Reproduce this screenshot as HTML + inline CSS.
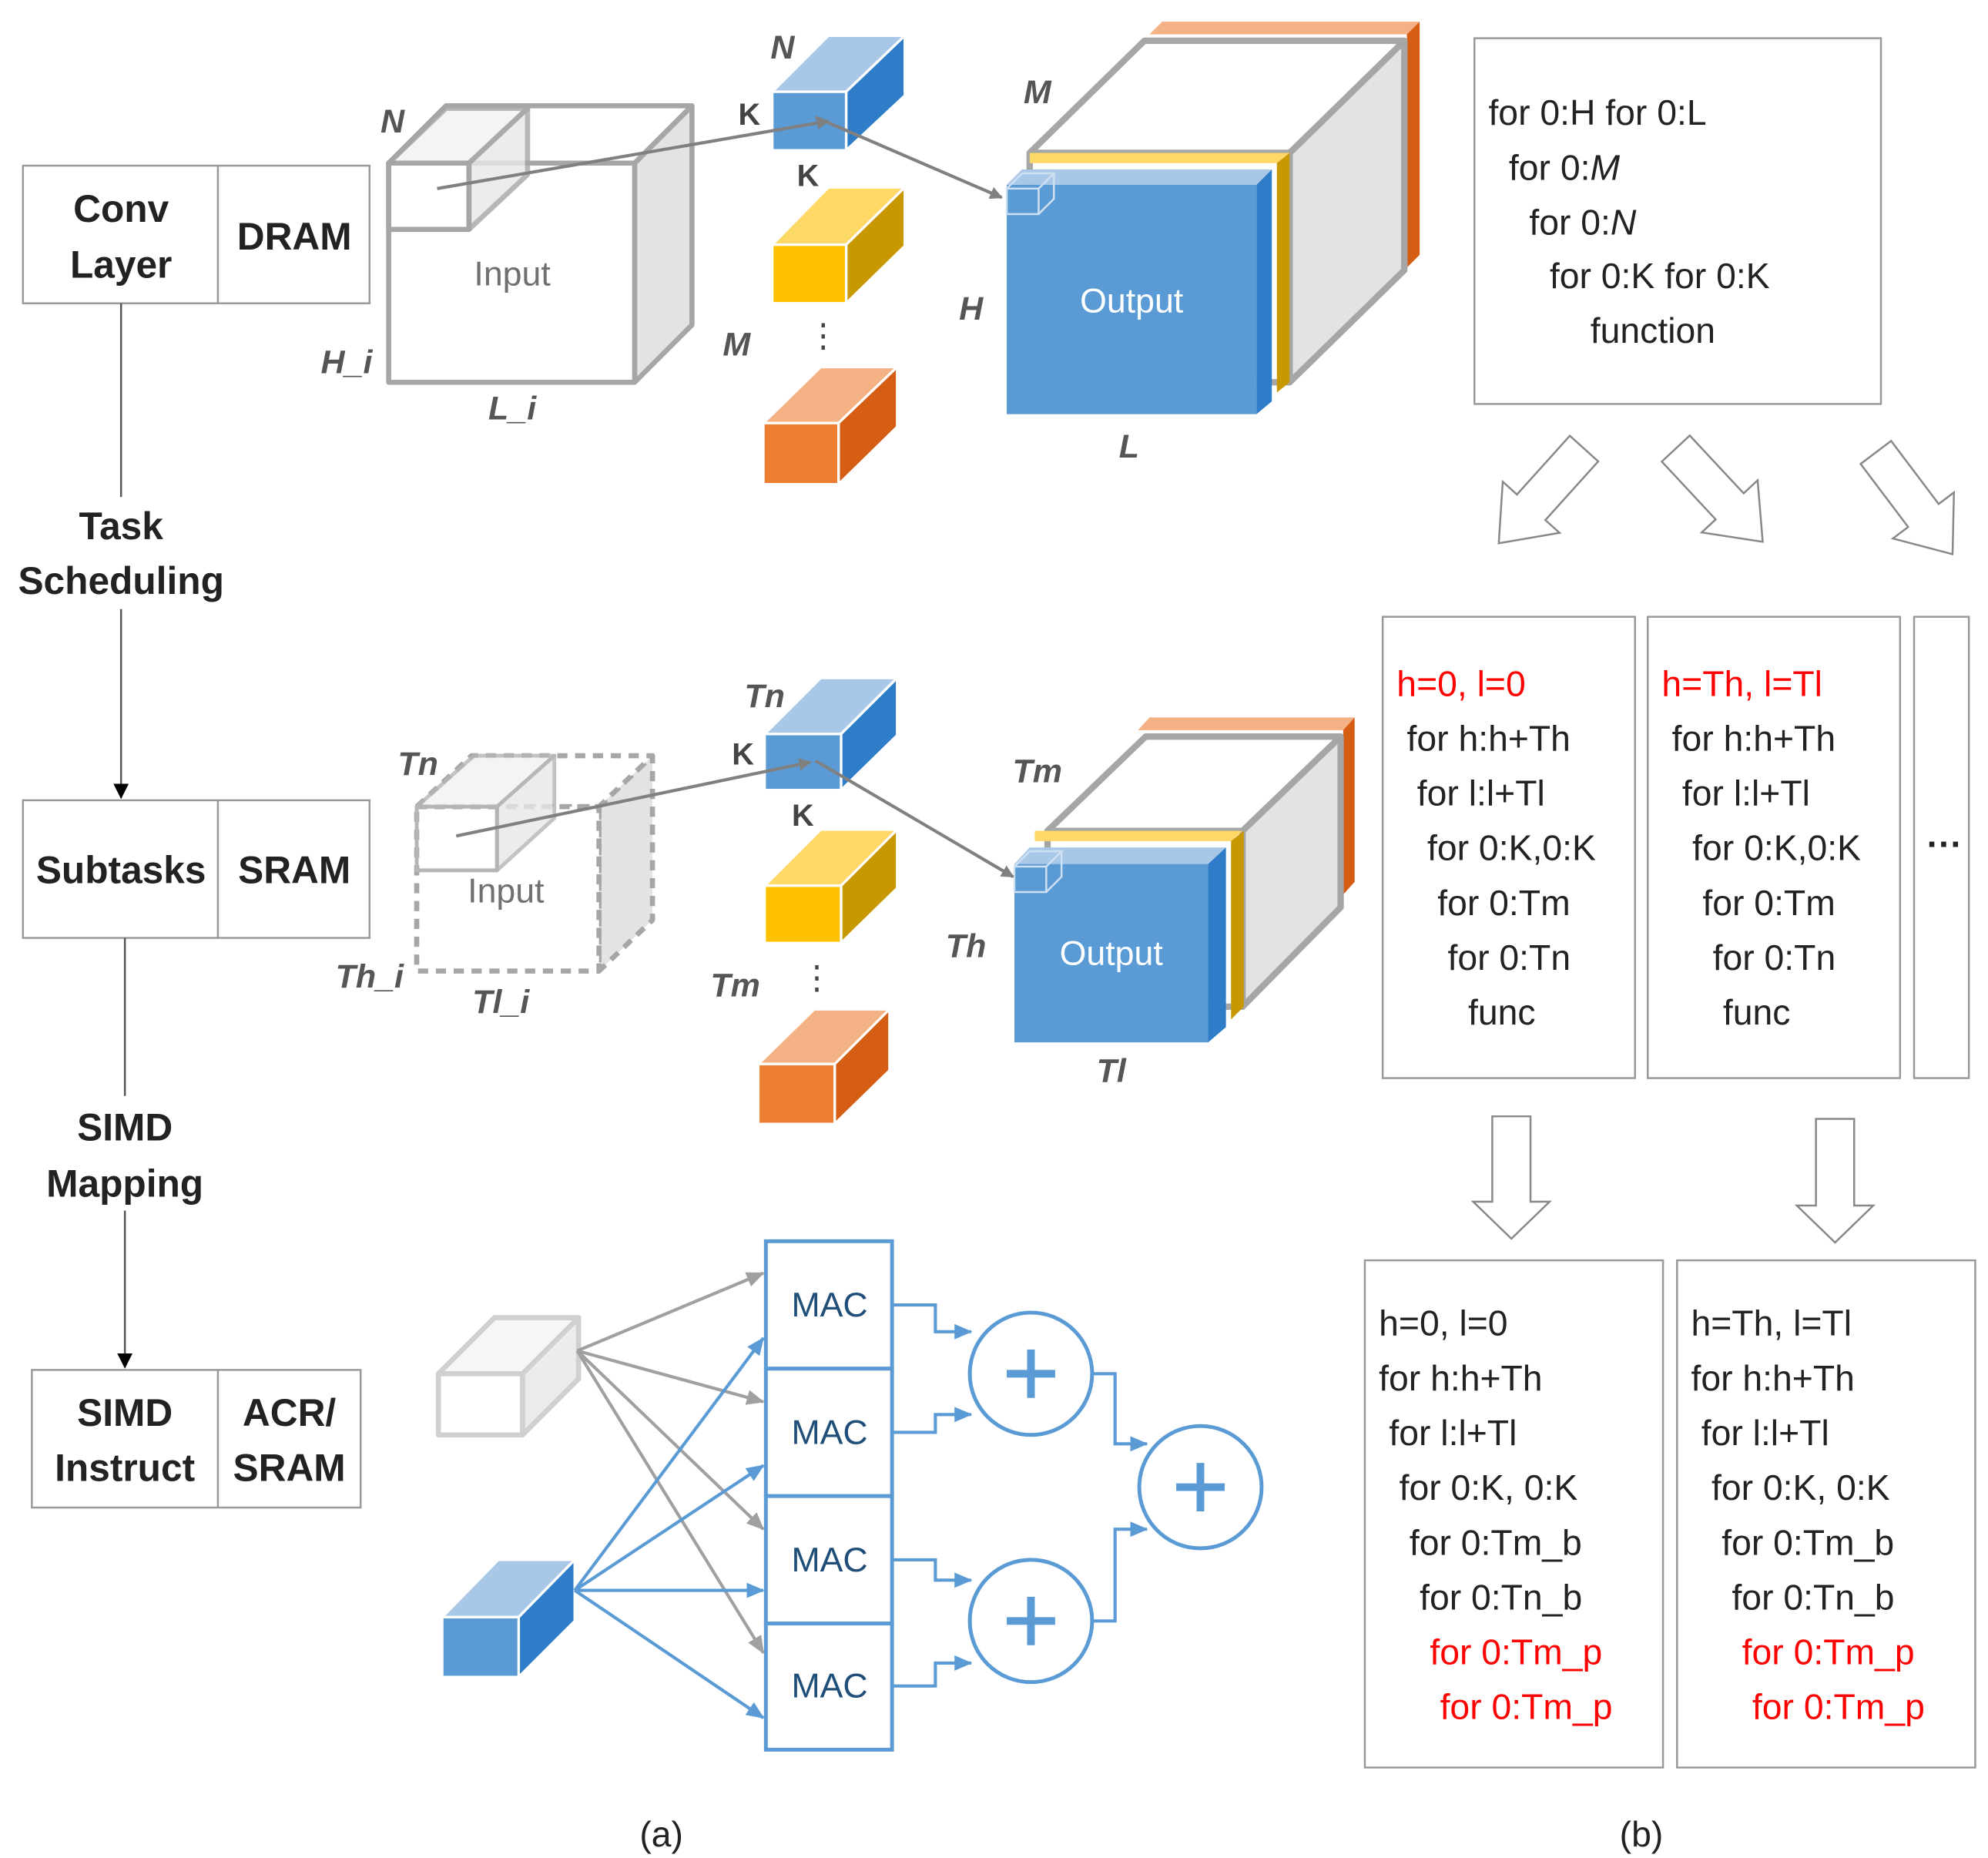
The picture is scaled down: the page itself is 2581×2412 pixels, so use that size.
<!DOCTYPE html>
<html><head><meta charset="utf-8"><style>
html,body{margin:0;padding:0;background:#fff;}
svg{display:block;}
text{font-family:"Liberation Sans",sans-serif;}
</style></head><body>
<svg width="2581" height="2412" viewBox="0 0 1560 1458" preserveAspectRatio="none" xmlns="http://www.w3.org/2000/svg">
<defs>
<marker id="ag" markerWidth="10" markerHeight="10" refX="9" refY="5" orient="auto" markerUnits="userSpaceOnUse"><path d="M0,0 L10,5 L0,10 z" fill="#808080"/></marker>
<marker id="agg" markerWidth="14" markerHeight="12" refX="13" refY="6" orient="auto" markerUnits="userSpaceOnUse"><path d="M0,0 L14,6 L0,12 z" fill="#a0a0a0"/></marker>
<marker id="ab" markerWidth="14" markerHeight="12" refX="13" refY="6" orient="auto" markerUnits="userSpaceOnUse"><path d="M0,0 L14,6 L0,12 z" fill="#5b9bd5"/></marker>
<marker id="ak" markerWidth="12" markerHeight="12" refX="11" refY="6" orient="auto" markerUnits="userSpaceOnUse"><path d="M0,0 L12,6 L0,12 z" fill="#000"/></marker>
<polygon id="harrow" points="-15,0 15,0 15,62 30,62 0,100 -30,62 -15,62" fill="#fff" stroke="#888" stroke-width="1.5"/>
</defs>
<rect width="1560" height="1458" fill="#fff"/>

<!-- left column -->
<g stroke="#999" stroke-width="1.5" fill="none">
<rect x="18" y="130" width="272" height="108"/><line x1="171" y1="130" x2="171" y2="238"/>
<rect x="18" y="628" width="272" height="108"/><line x1="171" y1="628" x2="171" y2="736"/>
<rect x="25" y="1075" width="258" height="108"/><line x1="171" y1="1075" x2="171" y2="1183"/>
</g>
<g stroke="#555" stroke-width="1.5">
<line x1="95" y1="238" x2="95" y2="390"/>
<line x1="95" y1="478" x2="95" y2="626" marker-end="url(#ak)"/>
<line x1="98" y1="736" x2="98" y2="860"/>
<line x1="98" y1="950" x2="98" y2="1073" marker-end="url(#ak)"/>
</g>
<g font-weight="bold" font-size="30" fill="#222" text-anchor="middle">
<text x="95" y="174">Conv</text><text x="95" y="218">Layer</text>
<text x="231" y="196">DRAM</text>
<text x="95" y="423">Task</text><text x="95" y="466">Scheduling</text>
<text x="95" y="693">Subtasks</text><text x="231" y="693">SRAM</text>
<text x="98" y="895">SIMD</text><text x="98" y="939">Mapping</text>
<text x="98" y="1119">SIMD</text><text x="98" y="1162">Instruct</text>
<text x="227" y="1119">ACR/</text><text x="227" y="1162">SRAM</text>
</g>

<!-- top input cube -->
<g stroke="#a6a6a6" stroke-width="4" stroke-linejoin="round">
<polygon points="498,128 543,83 543,255 498,300" fill="#e3e3e3"/>
<polygon points="305,128 350,83 543,83 498,128" fill="#fff"/>
<rect x="305" y="128" width="193" height="172" fill="#fff"/>
<polygon points="305,128 350,85 414,85 368,128" fill="#f2f2f2" opacity="0.8"/>
<polygon points="368,128 414,85 414,137 368,180" fill="#e8e8e8" opacity="0.8"/>
<rect x="305" y="128" width="63" height="52" fill="none"/>
</g>
<text x="402" y="224" font-size="27" fill="#707070" text-anchor="middle">Input</text>

<!-- top kernels -->
<g stroke="#fff" stroke-width="2">
<polygon points="606,72 650,28 710,28 664,72" fill="#a9c8e8"/><polygon points="664,72 710,28 710,75 664,118" fill="#2f7dc8"/><rect x="606" y="72" width="58" height="46" fill="#5b9bd5"/>
<polygon points="606,192 650,147 710,147 664,192" fill="#ffd966"/><polygon points="664,192 710,147 710,193 664,238" fill="#c89800"/><rect x="606" y="192" width="58" height="46" fill="#ffc000"/>
<polygon points="599,332 644,288 704,288 658,332" fill="#f4b183"/><polygon points="658,332 704,288 704,335 658,380" fill="#d55d14"/><rect x="599" y="332" width="59" height="48" fill="#ed7d31"/>
</g>
<text x="646" y="272" font-size="26" fill="#444" text-anchor="middle">⋮</text>

<!-- top output -->
<polygon points="912,17 1114,17 1104,27 902,27" fill="#f4b183"/>
<polygon points="1104,27 1114,17 1114,200 1104,210" fill="#d55d14"/>
<g stroke="#a6a6a6" stroke-width="5" stroke-linejoin="round">
<polygon points="1012,120 1102,32 1102,212 1012,300" fill="#e3e3e3"/>
<polygon points="808,120 898,32 1102,32 1012,120" fill="#fff"/>
<rect x="808" y="120" width="204" height="180" fill="#fff"/>
</g>
<polygon points="808,120 1012,120 1002,128 808,128" fill="#ffd966"/>
<polygon points="1002,128 1012,120 1012,300 1002,308" fill="#c89800"/>
<polygon points="790,145 802,133 998,133 986,145" fill="#a9c8e8"/>
<polygon points="986,145 998,133 998,315 986,325" fill="#2f7dc8"/>
<rect x="790" y="145" width="196" height="180" fill="#5b9bd5"/>
<g stroke="#cfe0f3" stroke-width="1.5" fill="none"><rect x="790" y="148" width="25" height="20"/><polyline points="790,148 802,136 827,136 815,148"/><polyline points="815,168 827,156 827,136"/></g>
<text x="888" y="245" font-size="27" fill="#fff" text-anchor="middle">Output</text>
<g stroke="#808080" stroke-width="2.5" fill="none">
<line x1="343" y1="148" x2="650" y2="95" marker-end="url(#ag)"/>
<line x1="640" y1="92" x2="786" y2="155" marker-end="url(#ag)"/>
</g>
<g font-style="italic" font-weight="bold" font-size="26" fill="#555" text-anchor="middle">
<text x="308" y="104">N</text><text x="272" y="293">H_i</text><text x="402" y="329">L_i</text>
<text x="614" y="46">N</text><text x="578" y="279">M</text>
<text x="814" y="81">M</text><text x="762" y="251">H</text><text x="886" y="359">L</text>
</g>
<g font-weight="bold" font-size="24" fill="#444" text-anchor="middle"><text x="588" y="98">K</text><text x="634" y="146">K</text></g>

<!-- middle input cube dashed -->
<g stroke="#a6a6a6" stroke-width="4" stroke-dasharray="8,6" stroke-linejoin="round">
<polygon points="470,633 512,593 512,722 470,762" fill="#e3e3e3"/>
<polygon points="327,633 370,593 512,593 470,633" fill="#fff"/>
<rect x="327" y="633" width="143" height="129" fill="#fff"/>
</g>
<g stroke="#b5b5b5" stroke-width="3" stroke-linejoin="round">
<polygon points="327,633 372,593 435,593 390,633" fill="#f2f2f2" opacity="0.8"/>
<polygon points="390,633 435,593 435,642 390,683" fill="#e8e8e8" opacity="0.8"/>
<rect x="327" y="633" width="63" height="50" fill="none"/>
</g>
<text x="397" y="708" font-size="27" fill="#707070" text-anchor="middle">Input</text>
<g stroke="#fff" stroke-width="2">
<polygon points="600,576 644,532 704,532 660,576" fill="#a9c8e8"/><polygon points="660,576 704,532 704,577 660,620" fill="#2f7dc8"/><rect x="600" y="576" width="60" height="44" fill="#5b9bd5"/>
<polygon points="600,695 644,651 704,651 660,695" fill="#ffd966"/><polygon points="660,695 704,651 704,697 660,740" fill="#c89800"/><rect x="600" y="695" width="60" height="45" fill="#ffc000"/>
<polygon points="595,835 639,792 698,792 655,835" fill="#f4b183"/><polygon points="655,835 698,792 698,840 655,882" fill="#d55d14"/><rect x="595" y="835" width="60" height="47" fill="#ed7d31"/>
</g>
<text x="641" y="776" font-size="26" fill="#444" text-anchor="middle">⋮</text>
<polygon points="902,563 1063,563 1054,573 893,573" fill="#f4b183"/>
<polygon points="1054,573 1063,563 1063,692 1054,702" fill="#d55d14"/>
<g stroke="#a6a6a6" stroke-width="5" stroke-linejoin="round">
<polygon points="975,652 1052,578 1052,712 975,790" fill="#e3e3e3"/>
<polygon points="822,652 899,578 1052,578 975,652" fill="#fff"/>
<rect x="822" y="652" width="153" height="138" fill="#fff"/>
</g>
<polygon points="812,652 975,652 966,660 812,660" fill="#ffd966"/>
<polygon points="966,660 976,652 976,790 966,800" fill="#c89800"/>
<polygon points="796,678 808,665 962,665 948,678" fill="#a9c8e8"/>
<polygon points="948,678 962,665 962,806 948,818" fill="#2f7dc8"/>
<rect x="796" y="678" width="152" height="140" fill="#5b9bd5"/>
<g stroke="#cfe0f3" stroke-width="1.5" fill="none"><rect x="796" y="680" width="25" height="20"/><polyline points="796,680 808,668 833,668 821,680"/><polyline points="821,700 833,688 833,668"/></g>
<text x="872" y="757" font-size="27" fill="#fff" text-anchor="middle">Output</text>
<g stroke="#808080" stroke-width="2.5" fill="none">
<line x1="358" y1="656" x2="636" y2="598" marker-end="url(#ag)"/>
<line x1="640" y1="597" x2="795" y2="688" marker-end="url(#ag)"/>
</g>
<g font-style="italic" font-weight="bold" font-size="26" fill="#555" text-anchor="middle">
<text x="328" y="608">Tn</text><text x="290" y="775">Th_i</text><text x="393" y="795">Tl_i</text>
<text x="600" y="555">Tn</text><text x="577" y="782">Tm</text>
<text x="814" y="614">Tm</text><text x="758" y="751">Th</text><text x="872" y="849">Tl</text>
</g>
<g font-weight="bold" font-size="24" fill="#444" text-anchor="middle"><text x="583" y="600">K</text><text x="630" y="648">K</text></g>

<!-- bottom SIMD -->
<g stroke="#d0d0d0" stroke-width="4" stroke-linejoin="round">
<polygon points="410,1078 454,1034 454,1082 410,1126" fill="#ececec"/>
<polygon points="344,1078 388,1034 454,1034 410,1078" fill="#f7f7f7"/>
<rect x="344" y="1078" width="66" height="48" fill="#fff"/>
</g>
<g stroke="#fff" stroke-width="2">
<polygon points="347,1269 391,1224 451,1224 407,1269" fill="#a9c8e8"/><polygon points="407,1269 451,1224 451,1272 407,1316" fill="#2f7dc8"/><rect x="347" y="1269" width="60" height="47" fill="#5b9bd5"/>
</g>
<g stroke="#5b9bd5" stroke-width="3" fill="#fff">
<rect x="601" y="974" width="99" height="100"/><rect x="601" y="1074" width="99" height="100"/>
<rect x="601" y="1174" width="99" height="100"/><rect x="601" y="1274" width="99" height="99"/>
</g>
<g font-size="27" fill="#1f4e79" text-anchor="middle">
<text x="651" y="1033">MAC</text><text x="651" y="1133">MAC</text><text x="651" y="1233">MAC</text><text x="651" y="1332">MAC</text>
</g>
<g stroke="#a0a0a0" stroke-width="2.5" fill="none">
<line x1="453" y1="1060" x2="599" y2="999" marker-end="url(#agg)"/>
<line x1="453" y1="1060" x2="599" y2="1100" marker-end="url(#agg)"/>
<line x1="453" y1="1060" x2="599" y2="1200" marker-end="url(#agg)"/>
<line x1="453" y1="1060" x2="599" y2="1297" marker-end="url(#agg)"/>
</g>
<g stroke="#5b9bd5" stroke-width="2.5" fill="none">
<line x1="451" y1="1248" x2="599" y2="1050" marker-end="url(#ab)"/>
<line x1="451" y1="1248" x2="599" y2="1150" marker-end="url(#ab)"/>
<line x1="451" y1="1248" x2="599" y2="1248" marker-end="url(#ab)"/>
<line x1="451" y1="1248" x2="599" y2="1348" marker-end="url(#ab)"/>
<polyline points="700,1024 734,1024 734,1045 762,1045" marker-end="url(#ab)"/>
<polyline points="700,1124 734,1124 734,1110 762,1110" marker-end="url(#ab)"/>
<polyline points="700,1224 734,1224 734,1240 762,1240" marker-end="url(#ab)"/>
<polyline points="700,1323 734,1323 734,1305 762,1305" marker-end="url(#ab)"/>
<polyline points="857,1078 875,1078 875,1133 900,1133" marker-end="url(#ab)"/>
<polyline points="857,1272 875,1272 875,1200 900,1200" marker-end="url(#ab)"/>
</g>
<g stroke="#5b9bd5" stroke-width="3" fill="#fff">
<circle cx="809" cy="1078" r="48"/><circle cx="809" cy="1272" r="48"/><circle cx="942" cy="1167" r="48"/>
</g>
<g stroke="#5b9bd5" stroke-width="6">
<line x1="790" y1="1078" x2="828" y2="1078"/><line x1="809" y1="1059" x2="809" y2="1097"/>
<line x1="790" y1="1272" x2="828" y2="1272"/><line x1="809" y1="1253" x2="809" y2="1291"/>
<line x1="923" y1="1167" x2="961" y2="1167"/><line x1="942" y1="1148" x2="942" y2="1186"/>
</g>
<text x="519" y="1449" font-size="28" fill="#222" text-anchor="middle">(a)</text>
<text x="1288" y="1449" font-size="28" fill="#222" text-anchor="middle">(b)</text>

<!-- right side -->
<g stroke="#999" stroke-width="1.5" fill="none">
<rect x="1157" y="30" width="319" height="287"/>
<rect x="1085" y="484" width="198" height="362"/>
<rect x="1293" y="484" width="198" height="362"/>
<rect x="1502" y="484" width="43" height="362"/>
<rect x="1071" y="989" width="234" height="398"/>
<rect x="1316" y="989" width="234" height="398"/>
</g>
<g font-size="28" fill="#222">
<text x="1168" y="98">for 0:H for 0:L</text>
<text x="1184" y="141">for 0:<tspan font-style="italic">M</tspan></text>
<text x="1200" y="184">for 0:<tspan font-style="italic">N</tspan></text>
<text x="1216" y="226">for 0:K  for  0:K</text>
<text x="1248" y="269">function</text>
</g>
<use href="#harrow" transform="translate(1243,352) rotate(42)"/>
<use href="#harrow" transform="translate(1315,352) rotate(-43)"/>
<use href="#harrow" transform="translate(1472,355) rotate(-37)"/>
<g font-size="28" fill="#222">
<text x="1096" y="546" fill="#ff0000">h=0, l=0</text>
<text x="1104" y="589">for h:h+Th</text>
<text x="1112" y="632">for l:l+Tl</text>
<text x="1120" y="675">for 0:K,0:K</text>
<text x="1128" y="718">for 0:Tm</text>
<text x="1136" y="761">for 0:Tn</text>
<text x="1152" y="804">func</text>
<text x="1304" y="546" fill="#ff0000">h=Th, l=Tl</text>
<text x="1312" y="589">for h:h+Th</text>
<text x="1320" y="632">for l:l+Tl</text>
<text x="1328" y="675">for 0:K,0:K</text>
<text x="1336" y="718">for 0:Tm</text>
<text x="1344" y="761">for 0:Tn</text>
<text x="1352" y="804">func</text>
<text x="1512" y="672" font-weight="bold">···</text>
</g>
<polygon points="1171,876 1201,876 1201,943 1216,943 1186,972 1156,943 1171,943" fill="#fff" stroke="#888" stroke-width="1.5"/>
<polygon points="1425,878 1455,878 1455,946 1470,946 1440,975 1410,946 1425,946" fill="#fff" stroke="#888" stroke-width="1.5"/>
<g font-size="28" fill="#222">
<text x="1082" y="1048">h=0, l=0</text>
<text x="1082" y="1091">for h:h+Th</text>
<text x="1090" y="1134">for l:l+Tl</text>
<text x="1098" y="1177">for 0:K, 0:K</text>
<text x="1106" y="1220">for 0:Tm_b</text>
<text x="1114" y="1263">for 0:Tn_b</text>
<text x="1122" y="1306" fill="#ff0000">for 0:Tm_p</text>
<text x="1130" y="1349" fill="#ff0000">for 0:Tm_p</text>
<text x="1327" y="1048">h=Th, l=Tl</text>
<text x="1327" y="1091">for h:h+Th</text>
<text x="1335" y="1134">for l:l+Tl</text>
<text x="1343" y="1177">for 0:K, 0:K</text>
<text x="1351" y="1220">for 0:Tm_b</text>
<text x="1359" y="1263">for 0:Tn_b</text>
<text x="1367" y="1306" fill="#ff0000">for 0:Tm_p</text>
<text x="1375" y="1349" fill="#ff0000">for 0:Tm_p</text>
</g>
</svg>
</body></html>
